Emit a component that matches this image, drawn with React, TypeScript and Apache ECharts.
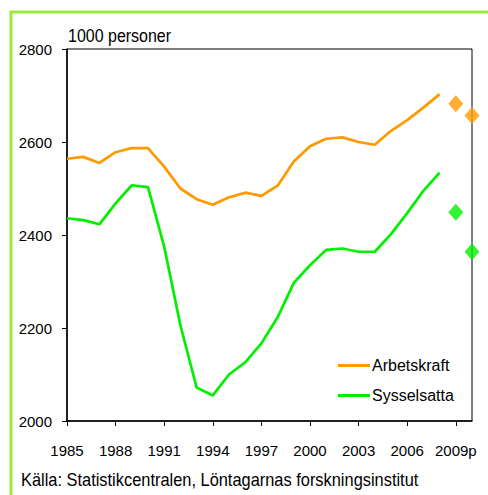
import React, { useEffect, useRef } from "react";
import * as echarts from "echarts";

const years = [
  "1985", "1986", "1987", "1988", "1989", "1990", "1991", "1992", "1993", "1994",
  "1995", "1996", "1997", "1998", "1999", "2000", "2001", "2002", "2003", "2004",
  "2005", "2006", "2007", "2008", "2009p", "2010p",
];

const arbetskraft = [
  2564, 2568, 2555, 2578, 2587, 2587, 2547, 2500, 2477, 2465,
  2481, 2491, 2484, 2506, 2558, 2591, 2607, 2610, 2600, 2594,
  2624, 2647, 2674, 2703, null, null,
];

const sysselsatta = [
  2436, 2432, 2423, 2468, 2507, 2503, 2375, 2206, 2072, 2055,
  2100, 2126, 2167, 2223, 2297, 2335, 2368, 2371, 2364, 2364,
  2402, 2447, 2495, 2534, null, null,
];

const arbetskraftPrognos = [
  null, null, null, null, null, null, null, null, null, null,
  null, null, null, null, null, null, null, null, null, null,
  null, null, null, null, 2682, 2657,
];

const sysselsattaPrognos = [
  null, null, null, null, null, null, null, null, null, null,
  null, null, null, null, null, null, null, null, null, null,
  null, null, null, null, 2449, 2364,
];

const FONT = "'Liberation Sans', Arial, sans-serif";
const ORANGE = "#FF9900";
const GREEN = "#00F000";

export default function App() {
  const ref = useRef<HTMLDivElement>(null);

  useEffect(() => {
    if (!ref.current) return;
    const chart = echarts.init(ref.current, undefined, { renderer: "svg" });
    chart.setOption({
      animation: false,
      backgroundColor: "#fff",
      grid: {
        left: 67,
        right: 16,
        top: 49,
        bottom: 74,
        show: true,
        borderColor: "#000",
        borderWidth: 1,
        backgroundColor: "transparent",
      },
      legend: {
        orient: "vertical",
        left: 338,
        top: 356,
        padding: 0,
        itemWidth: 32,
        itemHeight: 3,
        itemGap: 11,
        icon: "rect",
        data: ["Arbetskraft", "Sysselsatta"],
        textStyle: { fontFamily: FONT, fontSize: 16, color: "#000", padding: [0, 0, 0, -3], lineHeight: 19 },
      },
      graphic: [
        {
          type: "rect",
          shape: { x: 11, y: 12, width: 520, height: 520 },
          style: { fill: "none", stroke: "#9EEA3A", lineWidth: 3 },
        },
        {
          type: "text",
          x: 68,
          y: 36,
          scaleY: 1.12,
          style: {
            text: "1000 personer",
            fontFamily: FONT,
            fontSize: 16,
            fill: "#000",
            verticalAlign: "middle",
          },
        },
        {
          type: "text",
          x: 21,
          y: 480,
          scaleY: 1.12,
          style: {
            text: "Källa: Statistikcentralen, Löntagarnas forskningsinstitut",
            fontFamily: FONT,
            fontSize: 16.4,
            fill: "#000",
            verticalAlign: "middle",
          },
        },
      ],
      xAxis: {
        type: "category",
        data: years,
        boundaryGap: false,
        axisLine: { lineStyle: { color: "#000", width: 1.5 } },
        axisTick: { interval: 2, length: 5, lineStyle: { color: "#000" } },
        axisLabel: {
          interval: 2,
          margin: 22,
          fontFamily: FONT,
          fontSize: 15,
          color: "#000",
        },
        splitLine: { show: false },
      },
      yAxis: {
        type: "value",
        min: 2000,
        max: 2800,
        interval: 200,
        axisLine: { show: true, lineStyle: { color: "#000", width: 1.5 } },
        axisTick: { show: true, length: 5, lineStyle: { color: "#000" } },
        axisLabel: {
          margin: 15,
          fontFamily: FONT,
          fontSize: 15,
          color: "#000",
          padding: [6, 0, 0, 0],
          formatter: (v: number) => String(v),
        },
        splitLine: { show: false },
      },
      series: [
        {
          name: "Arbetskraft",
          type: "line",
          data: arbetskraft,
          symbol: "none",
          color: ORANGE,
          lineStyle: { color: ORANGE, width: 2.7 },
        },
        {
          name: "Sysselsatta",
          type: "line",
          data: sysselsatta,
          symbol: "none",
          color: GREEN,
          lineStyle: { color: GREEN, width: 2.7 },
        },
        {
          name: "Arbetskraft prognos",
          type: "scatter",
          data: arbetskraftPrognos,
          symbol: "diamond",
          symbolSize: [15, 17],
          clip: false,
          itemStyle: { color: ORANGE },
        },
        {
          name: "Sysselsatta prognos",
          type: "scatter",
          data: sysselsattaPrognos,
          symbol: "diamond",
          symbolSize: [15, 17],
          clip: false,
          itemStyle: { color: GREEN },
        },
      ],
    });
    return () => chart.dispose();
  }, []);

  return (
    <div
      ref={ref}
      style={{ position: "fixed", left: 0, top: 0, width: 488, height: 495 }}
    />
  );
}
